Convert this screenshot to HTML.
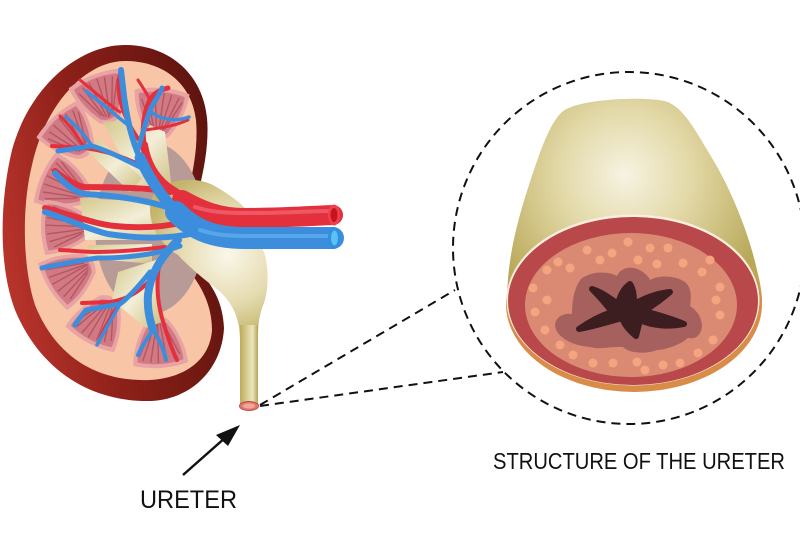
<!DOCTYPE html>
<html><head><meta charset="utf-8"><style>html,body{margin:0;padding:0;background:#fff}svg{display:block}</style></head><body>
<svg width="800" height="554" viewBox="0 0 800 554" xmlns="http://www.w3.org/2000/svg">
<defs>
 <linearGradient id="kout" x1="0" y1="0.6" x2="1" y2="0.3">
  <stop offset="0" stop-color="#b8342c"/><stop offset="0.4" stop-color="#8c2018"/><stop offset="1" stop-color="#5c130e"/>
 </linearGradient>
 <radialGradient id="pelv" cx="228" cy="255" r="85" gradientUnits="userSpaceOnUse">
  <stop offset="0" stop-color="#faf7ea"/><stop offset="0.55" stop-color="#e6dcb2"/><stop offset="1" stop-color="#c4b46c"/>
 </radialGradient>
 <linearGradient id="ur" x1="240" y1="0" x2="258" y2="0" gradientUnits="userSpaceOnUse">
  <stop offset="0" stop-color="#bcac5c"/><stop offset="0.45" stop-color="#ddd29a"/><stop offset="0.7" stop-color="#ece4c0"/><stop offset="1" stop-color="#b4a454"/>
 </linearGradient>
 <radialGradient id="tube" cx="625" cy="175" r="150" gradientUnits="userSpaceOnUse">
  <stop offset="0" stop-color="#f7f3e2"/><stop offset="0.45" stop-color="#e2d8a6"/><stop offset="1" stop-color="#b8a858"/>
 </radialGradient>
 <linearGradient id="calx" x1="0" y1="0" x2="1" y2="1">
  <stop offset="0" stop-color="#d4c88c"/><stop offset="0.5" stop-color="#f3eed8"/><stop offset="1" stop-color="#ccbe7e"/>
 </linearGradient>
 <g id="pyr">
  <path d="M-22,-25 Q-2,-24 18,-10 Q25,0 18,10 Q-2,24 -22,25 Q-29,0 -22,-25 Z" fill="#e8a4a4"/>
  <path d="M-19,-21 Q-2,-20 15,-8 Q20,0 15,8 Q-2,20 -19,21 Q-25,0 -19,-21 Z" fill="#d27a84"/>
  <path d="M-18,-16 L14,-3 M-20,-9 L15,-1 M-21,-2 L16,0 M-20,6 L15,2 M-18,13 L14,4 M-14,-19 L12,-5 M-14,18 L12,6" stroke="#ac4a58" stroke-width="1.3" opacity="0.75" fill="none"/>
 </g>
</defs>

<!-- Kidney -->
<path d="M125,45 C170,45 203,75 207,118 C209,140 205,165 200,185 L203,275 C213,287 223,303 224,328 C222,370 190,400 150,401 C90,402 40,370 15,310 C-2,265 0,200 12,150 C30,85 80,45 125,45 Z" fill="url(#kout)"/>
<path d="M125,61 C165,61 192,85 196,120 C198,145 194,165 190,185 L190,272 C201,286 212,305 212,330 C210,360 185,378 150,380 C95,382 55,355 35,305 C22,265 22,205 32,165 C45,105 85,61 125,61 Z" fill="#f8c6a6"/>
<ellipse cx="150" cy="228" rx="55" ry="86" fill="#b89a96"/>

<use href="#pyr" transform="translate(103,101) rotate(69) scale(1.1)"/>
<use href="#pyr" transform="translate(160,116) rotate(95) scale(1.1)"/>
<use href="#pyr" transform="translate(73,137) rotate(48) scale(1.1)"/>
<use href="#pyr" transform="translate(67,187) rotate(24) scale(1.1)"/>
<use href="#pyr" transform="translate(69,227) rotate(-1) scale(1.1)"/>
<use href="#pyr" transform="translate(73,274) rotate(-32) scale(1.1)"/>
<use href="#pyr" transform="translate(101,318) rotate(-62) scale(1.1)"/>
<use href="#pyr" transform="translate(159,340) rotate(-94) scale(1.1)"/>

<!-- calyces -->
<g fill="url(#calx)">
 <path d="M103,122 L128,120 L140,140 L150,125 L165,132 L172,190 L140,192 Z"/>
 <path d="M86,150 L100,140 L142,178 L130,192 Z"/>
 <path d="M80,198 L175,203 L182,240 L85,240 Z"/>
 <path d="M88,245 L152,244 L152,264 L88,258 Z"/>
 <path d="M118,272 L156,260 L162,322 L146,328 L112,300 Z"/>
</g>

<!-- pelvis + ureter -->
<path d="M160,188 C175,178 200,176 218,188 C235,198 250,210 258,225 L262,248 C268,258 270,285 264,303 C259,315 258,325 258,340 L258,406 L240,406 L240,340 C240,318 232,302 218,290 C205,280 190,268 178,255 C160,245 150,225 150,210 C150,200 153,193 160,188 Z" fill="url(#pelv)"/>
<rect x="240" y="325" width="18" height="81" fill="url(#ur)"/>
<ellipse cx="249" cy="406" rx="9.5" ry="4.5" fill="#e07a70" stroke="#c04848" stroke-width="1"/>
<ellipse cx="249" cy="406" rx="6" ry="2.5" fill="#f2a898"/>

<!-- red vessels -->
<g stroke="#e3303c" fill="none" stroke-linecap="round">
 <path d="M252,215 C218,215 192,204 168,187 C155,177 147,163 144,145" stroke-width="8"/>
 <path d="M144,145 C142,128 144,112 150,100 C154,93 160,90 168,88" stroke-width="5"/>
 <path d="M150,100 C146,92 142,86 138,80" stroke-width="3"/>
 <path d="M146,130 C155,128 170,128 188,120" stroke-width="3"/>
 <path d="M146,150 C135,135 125,120 120,100 C118,90 118,80 121,70" stroke-width="4"/>
 <path d="M120,112 C108,104 95,92 80,80" stroke-width="3"/>
 <path d="M140,165 C120,155 100,150 85,148 L52,146" stroke-width="4"/>
 <path d="M85,148 C78,138 70,125 60,116" stroke-width="3"/>
 <path d="M170,192 C150,188 120,187 84,187 C74,185 64,178 55,171" stroke-width="6"/>
 <path d="M185,222 C160,228 135,228 115,226 C95,224 75,216 45,208" stroke-width="6"/>
 <path d="M165,247 C140,250 115,252 95,252 C80,252 68,250 60,250" stroke-width="4"/>
 <path d="M160,260 C156,280 157,300 162,318 C167,335 172,350 177,360" stroke-width="4"/>
 <path d="M150,280 C140,292 125,300 110,302 L82,303" stroke-width="4"/>
 <path d="M120,302 C112,315 105,325 100,338" stroke-width="3"/>
 <path d="M182,200 C200,210 218,218 245,218 C280,218 310,216 333,215" stroke-width="20"/>
</g>
<path d="M195,207 C210,212 225,213 250,213 C285,213 310,211 332,211" stroke="#ee5866" stroke-width="4" fill="none" stroke-linecap="round"/>

<!-- blue vessels -->
<g stroke="#3c8edc" fill="none" stroke-linecap="round">
 <path d="M182,218 C164,200 150,180 140,158" stroke-width="11"/>
 <path d="M140,158 C131,138 127,118 124,96 L121,70" stroke-width="6"/>
 <path d="M138,150 C142,135 146,120 151,108 C155,100 160,94 162,88" stroke-width="5"/>
 <path d="M151,112 C162,120 176,122 189,117" stroke-width="3.5"/>
 <path d="M128,125 C115,115 100,102 86,91" stroke-width="3.5"/>
 <path d="M142,168 C122,158 106,150 92,146 L58,151" stroke-width="5"/>
 <path d="M92,146 C84,134 74,124 66,117" stroke-width="3.5"/>
 <path d="M182,212 C155,202 125,196 84,194 C72,191 62,181 55,173" stroke-width="6"/>
 <path d="M195,233 C165,240 135,238 108,234 C90,230 70,220 45,212" stroke-width="6"/>
 <path d="M180,246 C155,255 125,258 98,258 C80,260 62,264 42,268" stroke-width="5"/>
 <path d="M178,240 C160,258 150,275 148,295 C147,310 150,320 153,330" stroke-width="8"/>
 <path d="M153,330 C146,340 141,348 138,355" stroke-width="4"/>
 <path d="M153,330 C160,340 164,350 166,360" stroke-width="4"/>
 <path d="M150,272 C138,287 128,298 120,304 L86,310 C82,315 78,320 75,325" stroke-width="5"/>
 <path d="M120,304 C112,318 104,332 97,345" stroke-width="3.5"/>
 <path d="M176,212 C192,228 210,238 245,238 L333,238" stroke-width="22"/>
</g>
<path d="M200,230 C215,235 228,236 250,236 L332,236" stroke="#58a6ea" stroke-width="4" fill="none" stroke-linecap="round"/>

<!-- tube ends -->
<ellipse cx="334" cy="215" rx="6" ry="10.5" fill="#f04050"/>
<ellipse cx="334" cy="215" rx="3.5" ry="7" fill="#c4141e"/>
<ellipse cx="334" cy="238" rx="6" ry="11" fill="#2f8fe0"/>
<ellipse cx="334.5" cy="238" rx="3.5" ry="7.5" fill="#5cc0f4"/>

<!-- dashed lines & circle -->
<g stroke="#111" stroke-width="2" fill="none" stroke-dasharray="9 6">
 <circle cx="629" cy="248" r="176"/>
 <path d="M260,405 L455,290"/>
 <path d="M260,406 L503,372"/>
</g>

<!-- cross-section -->
<path d="M507,302 C507,260 517,222 528,188 C538,158 548,125 562,112 C578,98 650,96 668,102 C685,110 695,130 712,158 C730,188 748,230 757,270 C760,282 762,292 762,302 Z" fill="url(#tube)"/>
<ellipse cx="634" cy="304" rx="128" ry="88" fill="#d88c48"/>
<ellipse cx="633" cy="300" rx="126.5" ry="85.5" fill="#fbeede"/>
<ellipse cx="633" cy="301" rx="125" ry="84" fill="#b8484a"/>
<ellipse cx="631" cy="305" rx="106" ry="72" fill="#da8a72"/>
<g fill="#f5a480">
 <circle cx="628" cy="242" r="4.5"/><circle cx="650" cy="248" r="4.5"/><circle cx="668" cy="248" r="4.5"/>
 <circle cx="587" cy="250" r="4.5"/><circle cx="612" cy="253" r="4.5"/><circle cx="558" cy="262" r="4.5"/>
 <circle cx="638" cy="260" r="4.5"/><circle cx="683" cy="263" r="4.5"/><circle cx="547" cy="270" r="4.5"/>
 <circle cx="570" cy="268" r="4.5"/><circle cx="657" cy="264" r="4.5"/><circle cx="702" cy="272" r="4.5"/>
 <circle cx="533" cy="288" r="4.5"/><circle cx="716" cy="300" r="4.5"/>
 <circle cx="720" cy="287" r="4.5"/><circle cx="547" cy="300" r="4.5"/>
 <circle cx="535" cy="312" r="4.5"/><circle cx="720" cy="315" r="4.5"/><circle cx="545" cy="330" r="4.5"/>
 <circle cx="713" cy="340" r="4.5"/><circle cx="573" cy="355" r="4.5"/>
 <circle cx="698" cy="353" r="4.5"/><circle cx="593" cy="363" r="4.5"/>
 <circle cx="613" cy="363" r="4.5"/><circle cx="637" cy="362" r="4.5"/><circle cx="645" cy="370" r="4.5"/>
 <circle cx="663" cy="365" r="4.5"/><circle cx="680" cy="363" r="4.5"/><circle cx="560" cy="345" r="4.5"/>
 <circle cx="710" cy="260" r="4.5"/><circle cx="600" cy="260" r="4.5"/>
</g>
<path d="M558,333 C550,322 560,312 572,314 C572,300 575,285 582,278 C595,270 610,272 617,276 C620,268 632,264 643,272 C648,276 650,279 650,280 C660,274 680,276 687,284 C692,290 691,300 690,306 C700,312 705,325 700,333 C696,340 690,338 688,338 C680,345 665,350 657,350 C648,354 630,354 623,347 C612,346 600,350 590,347 C578,346 565,342 558,333 Z" fill="#a6615e"/>
<path d="M592,289 C602,292 611,299 618,304 C620,296 624,288 630,284 C634,290 634,298 634,304 C645,298 658,293 670,292 C662,299 652,306 644,311 C658,315 670,318 684,324 C670,327 652,326 640,320 C638,328 637,332 636,336 C630,331 625,326 622,318 C608,322 592,327 579,329 C589,322 600,316 612,312 C606,304 599,296 592,289 Z" fill="#3d1e20" stroke="#3d1e20" stroke-width="6" stroke-linejoin="round"/>

<!-- arrow -->
<line x1="183" y1="475" x2="226" y2="437" stroke="#111" stroke-width="2.5"/>
<polygon points="240,425 228,446 216,435" fill="#111"/>

<!-- labels -->
<text x="140" y="508" font-family="'Liberation Sans', sans-serif" font-size="25" textLength="97" lengthAdjust="spacingAndGlyphs" fill="#111">URETER</text>
<text x="493" y="469" font-family="'Liberation Sans', sans-serif" font-size="23" textLength="292" lengthAdjust="spacingAndGlyphs" fill="#111">STRUCTURE OF THE URETER</text>
</svg>
</body></html>
